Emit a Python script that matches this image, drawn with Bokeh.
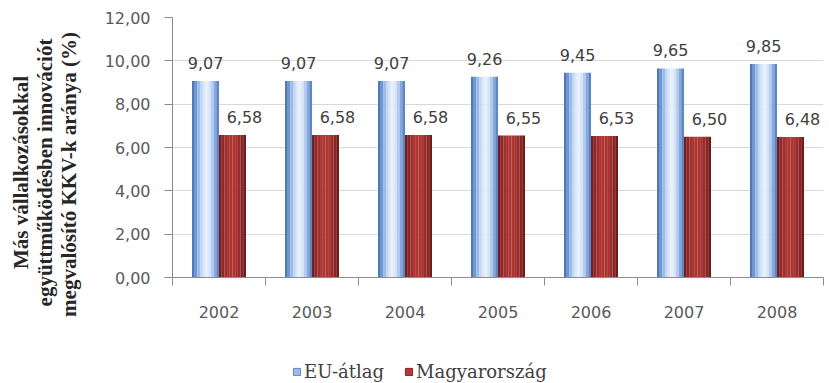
import math
from bokeh.plotting import figure
from bokeh.layouts import row, column
from bokeh.models import (ColumnDataSource, Range1d, LinearAxis,
                          FixedTicker, Legend, LegendItem)
from bokeh.transform import dodge
from bokeh.core.properties import value
from bokeh.embed import file_html
from bokeh.resources import INLINE

years = ["2002", "2003", "2004", "2005", "2006", "2007", "2008"]
eu_avg = [9.07, 9.07, 9.07, 9.26, 9.45, 9.65, 9.85]
hungary = [6.58, 6.58, 6.58, 6.55, 6.53, 6.50, 6.48]
y_ticks = [0, 2, 4, 6, 8, 10, 12]
y_tick_labels = ["0,00", "2,00", "4,00", "6,00", "8,00", "10,00", "12,00"]
series_names = ["EU-átlag", "Magyarország"]
y_title_lines = ["Más vállalkozásokkal", "együttműködésben innovációt", "megvalósító KKV-k aránya (%)"]

def fmt(v):
    return f"{v:.2f}".replace(".", ",")

xc = [i + 0.5 for i in range(len(years))]
src = ColumnDataSource(dict(
    xc=xc, eu=eu_avg, hu=hungary,
    eu_lbl=[fmt(v) for v in eu_avg], hu_lbl=[fmt(v) for v in hungary],
))

W, H = 829, 383
TITLE_W, MAIN_H = 100, 340
LEG_H = H - MAIN_H

# ---------------- main chart ----------------
p = figure(width=W - TITLE_W, height=MAIN_H, x_range=Range1d(0, len(years)),
           y_range=Range1d(0, 12), output_backend="svg", toolbar_location=None, title=None,
           x_axis_location=None, y_axis_location=None,
           min_border_left=72, min_border_right=6, min_border_top=17, min_border_bottom=63)
p.outline_line_color = None
p.background_fill_color = "white"
p.xgrid.grid_line_color = None
p.ygrid.ticker = FixedTicker(ticks=y_ticks)
p.ygrid.grid_line_color = "#D9D9D9"

yax = LinearAxis(ticker=FixedTicker(ticks=y_ticks))
yax.major_label_overrides = {t: l for t, l in zip(y_ticks, y_tick_labels)}
yax.axis_line_color = "#8C8C8C"
yax.major_tick_line_color = "#8C8C8C"
yax.major_tick_out = 8
yax.major_tick_in = 0
yax.minor_tick_line_color = None
yax.major_label_standoff = 14
yax.major_label_text_font = "DejaVu Sans"
yax.major_label_text_font_size = "16px"
yax.major_label_text_color = "#595959"
p.add_layout(yax, "left")

xlin = LinearAxis(ticker=FixedTicker(ticks=list(range(len(years) + 1))))
xlin.axis_line_color = "#8C8C8C"
xlin.major_tick_line_color = "#8C8C8C"
xlin.major_tick_out = 8
xlin.major_tick_in = 0
xlin.minor_tick_line_color = None
xlin.major_label_text_font_size = "1px"
xlin.major_label_text_color = None
xlin.major_label_standoff = 0
p.add_layout(xlin, "below")

xcat = LinearAxis(ticker=FixedTicker(ticks=xc))
xcat.major_label_overrides = {x: y for x, y in zip(xc, years)}
xcat.axis_line_color = None
xcat.major_tick_line_color = None
xcat.minor_tick_line_color = None
xcat.major_label_standoff = 14
xcat.major_label_text_font = "DejaVu Sans"
xcat.major_label_text_font_size = "16px"
xcat.major_label_text_color = "#595959"
p.add_layout(xcat, "below")

bw = 0.29
blue_cols = ["#4E78B8", "#6F98D2", "#9BBCE8", "#C2D7F3", "#DCE8FA", "#E6EFFC",
             "#D6E4F8", "#B4CCEF", "#86A9DD", "#5E86C4"]
red_cols = ["#741C1C", "#8E2626", "#A02E2C", "#AA3330", "#AE3532", "#AC3431",
            "#A6312E", "#9A2C2A", "#892524", "#701A1A"]
n = len(blue_cols)
sw = bw / n
for i in range(n):
    off = -bw / 2 + sw * (i + 0.5)
    p.vbar(x=dodge("xc", -bw / 2 + off), top="eu", width=sw * 1.02,
           source=src, fill_color=blue_cols[i], line_color=None)
    p.vbar(x=dodge("xc", bw / 2 + off), top="hu", width=sw * 1.02,
           source=src, fill_color=red_cols[i], line_color=None)

p.text(x=dodge("xc", -bw / 2), y="eu", text="eu_lbl", source=src,
       text_align="center", text_baseline="bottom", y_offset=-12,
       text_font=value("DejaVu Sans"), text_font_size="16px", text_color="#404040")
p.text(x=dodge("xc", bw / 2), y="hu", text="hu_lbl", source=src,
       text_align="center", text_baseline="bottom", y_offset=-12, x_offset=12,
       text_font=value("DejaVu Sans"), text_font_size="16px", text_color="#404040")

# ---------------- y-axis title panel (full height) ----------------
t = figure(width=TITLE_W, height=H, x_range=Range1d(0, TITLE_W), y_range=Range1d(H, 0),
           output_backend="svg", toolbar_location=None, title=None, x_axis_location=None,
           y_axis_location=None, min_border=0)
t.outline_line_color = None
t.grid.grid_line_color = None
title_x = [20, 44, 68]
title_y = [172, 172, 174]
t.text(x=title_x, y=title_y, text=y_title_lines, angle=math.pi / 2,
       text_align="center", text_baseline="middle",
       text_font=value("Liberation Serif"), text_font_style="bold", text_font_size="21px",
       text_color="#262626")

# ---------------- legend panel ----------------
lg = figure(width=W - TITLE_W, height=LEG_H, x_range=Range1d(0, 10), y_range=Range1d(0, 10),
            output_backend="svg", toolbar_location=None, title=None, x_axis_location=None,
            y_axis_location=None, min_border=0)
lg.outline_line_color = None
lg.grid.grid_line_color = None
sw_b = lg.rect(x=[-50], y=[-50], width=1, height=1, fill_color="#9BBCE8", line_color="#5E86C4")
sw_r = lg.rect(x=[-50], y=[-50], width=1, height=1, fill_color="#B53A36", line_color="#842322")
leg = Legend(items=[LegendItem(label=series_names[0], renderers=[sw_b]),
                    LegendItem(label=series_names[1], renderers=[sw_r])],
             orientation="horizontal", location=(120, 1),
             glyph_width=9, glyph_height=9, label_standoff=3, spacing=20,
             padding=4, margin=0, border_line_color=None, background_fill_alpha=0,
             label_text_font="DejaVu Serif", label_text_font_size="18px",
             label_text_color="#404040")
lg.add_layout(leg, "center")

layout = row(t, column(p, lg))
open("out.html", "w").write(file_html(layout, INLINE))
